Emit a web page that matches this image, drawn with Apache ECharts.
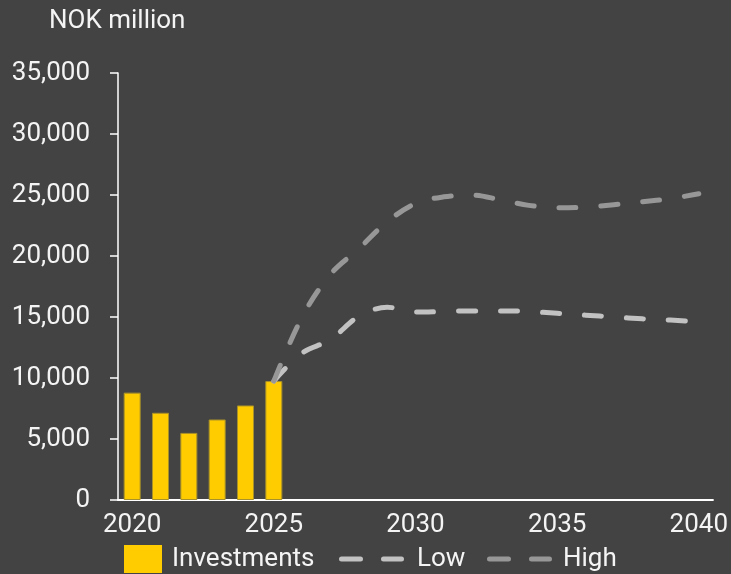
<!DOCTYPE html>
<html>
<head>
<meta charset="utf-8">
<script src="https://cdn.jsdelivr.net/npm/echarts@6/dist/echarts.min.js"></script>
<style>
html,body{margin:0;padding:0;background:#434343;}
#c{width:731px;height:574px;}
</style>
</head>
<body>
<div id="c"></div>
<script>
const years = ['2020','2021','2022','2023','2024','2025','2026','2027','2028','2029','2030','2031','2032','2033','2034','2035','2036','2037','2038','2039','2040'];
const investments = [8800, 7150, 5500, 6600, 7750, 9750, null, null, null, null, null, null, null, null, null, null, null, null, null, null, null];
const low = [null, null, null, null, null, 9750, 12050, 13150, 15050, 15800, 15400, 15450, 15500, 15500, 15450, 15300, 15150, 15000, 14850, 14750, 14600];
const high = [null, null, null, null, null, 9750, 15000, 18500, 20600, 22800, 24300, 24850, 25000, 24600, 24150, 23950, 24000, 24200, 24450, 24700, 25100];
const yTicks = {min: 0, max: 35000, interval: 5000};

const FONT = 'Roboto';
const FS = 26;
const TXT = '#f4f4f4';
const LOWC = '#c2c2c2';
const HIGHC = '#979797';
const DASH_ICON = 'path://M2.5,0 H21.5 A2.5,2.5 0 0 1 21.5,5 H2.5 A2.5,2.5 0 0 1 2.5,0 Z M44.5,0 H62.5 A2.5,2.5 0 0 1 62.5,5 H44.5 A2.5,2.5 0 0 1 44.5,0 Z';

const chart = echarts.init(document.getElementById('c'), null, {renderer: 'canvas'});
const lineStyleOf = c => ({color: c, width: 5, type: [17, 25], cap: 'round', join: 'round'});
const txt = pad => ({color: TXT, fontFamily: FONT, fontSize: FS, padding: [0, 0, 0, pad]});
chart.setOption({
  backgroundColor: '#434343',
  animation: false,
  title: {
    text: 'NOK million', left: 44, top: 3,
    textStyle: {color: TXT, fontFamily: FONT, fontSize: FS, fontWeight: 'normal'}
  },
  grid: {left: 118, right: 17, top: 73, bottom: 74, containLabel: false},
  legend: [
    {left: 119, top: 540, itemWidth: 38, itemHeight: 28, selectedMode: false,
      data: [{name: 'Investments', icon: 'rect', itemStyle: {color: '#ffcc00', borderWidth: 0}}],
      textStyle: txt(5)},
    {left: 334, top: 541, itemWidth: 65, itemHeight: 5, selectedMode: false,
      data: [{name: 'Low', icon: DASH_ICON, itemStyle: {color: LOWC, borderWidth: 0}}],
      textStyle: txt(8)},
    {left: 482, top: 541, itemWidth: 65, itemHeight: 5, selectedMode: false,
      data: [{name: 'High', icon: DASH_ICON, itemStyle: {color: HIGHC, borderWidth: 0}}],
      textStyle: txt(6)}
  ],
  xAxis: {
    type: 'category', data: years, boundaryGap: true,
    axisLine: {show: true, lineStyle: {color: '#ffffff', width: 2}},
    axisTick: {show: false},
    axisLabel: {interval: 4, color: TXT, fontFamily: FONT, fontSize: FS, margin: 12}
  },
  yAxis: {
    type: 'value', min: yTicks.min, max: yTicks.max, interval: yTicks.interval,
    axisLine: {show: true, lineStyle: {color: '#ffffff', width: 1.5}},
    axisTick: {show: true, length: 8, lineStyle: {color: '#ffffff', width: 1.5}},
    splitLine: {show: false},
    axisLabel: {color: TXT, fontFamily: FONT, fontSize: FS, margin: 28,
      formatter: v => v.toLocaleString('en-US')}
  },
  series: [
    {name: 'Investments', type: 'bar', data: investments, barWidth: 17,
      itemStyle: {color: '#ffcc00', borderColor: '#a8902a', borderWidth: 1}, z: 2},
    {name: 'Low', type: 'line', data: low, smooth: 0.35, symbol: 'none', showSymbol: false,
      color: LOWC, lineStyle: lineStyleOf(LOWC), z: 3},
    {name: 'High', type: 'line', data: high, smooth: 0.35, symbol: 'none', showSymbol: false,
      color: HIGHC, lineStyle: lineStyleOf(HIGHC), z: 3}
  ]
});
</script>
</body>
</html>
